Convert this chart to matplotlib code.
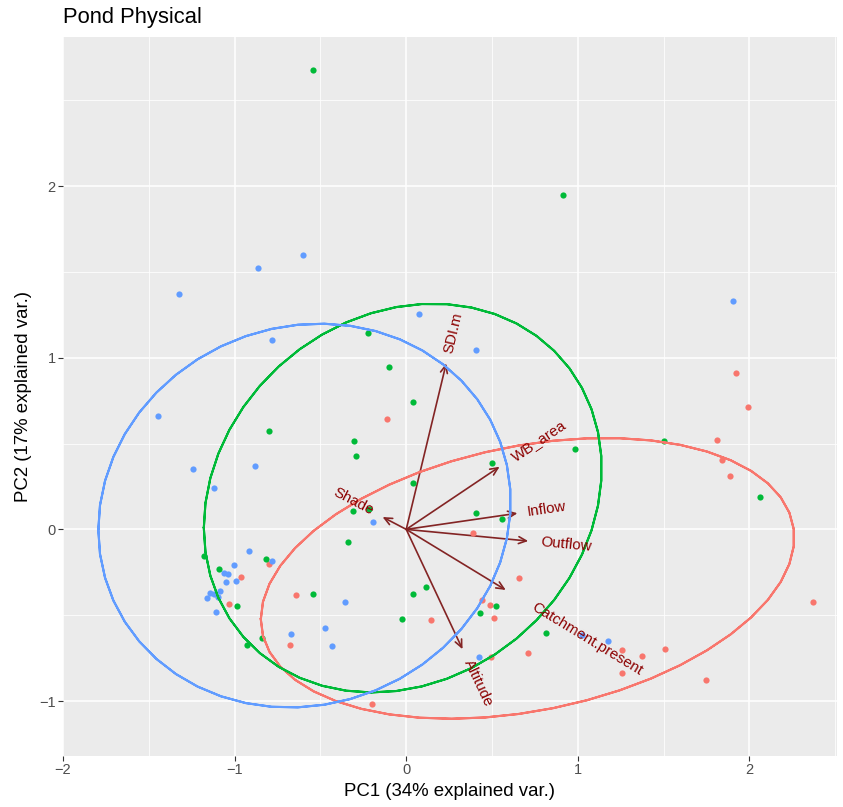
import numpy as np
import matplotlib
matplotlib.use("Agg")
import matplotlib.pyplot as plt

plt.rcParams['font.family'] = ['Liberation Sans', 'DejaVu Sans']

# PCA scores, one list per group
red_x = [1.922, -0.111, -0.798, -0.963, -1.031, -0.645, 0.142, -0.676, -0.200, 1.990,
         1.811, 1.842, 1.885, 0.388, 0.656, 0.439, 0.489, 0.511, 1.258, 1.373,
         1.508, 1.260, 1.749, 2.372, 0.495, 0.712]
red_y = [0.913, 0.643, -0.203, -0.279, -0.434, -0.384, -0.530, -0.673, -1.015, 0.715,
         0.519, 0.402, 0.311, -0.021, -0.281, -0.411, -0.440, -0.514, -0.700, -0.739,
         -0.697, -0.838, -0.875, -0.425, -0.741, -0.722]

green_x = [-0.542, -0.225, -0.103, 0.916, 0.039, -0.800, -0.303, -0.295, 0.039, -0.313,
           -0.219, -0.338, -1.181, -0.819, -1.091, -0.988, -0.542, 0.039, 0.116, -0.025,
           -0.840, -0.930, 1.501, 0.986, 2.060, 0.501, 0.404, 0.557, 0.522, 0.429, 0.814]
green_y = [2.677, 1.142, 0.946, 1.949, 0.740, 0.575, 0.515, 0.429, 0.268, 0.107,
           0.121, -0.075, -0.155, -0.172, -0.229, -0.448, -0.376, -0.376, -0.337, -0.524,
           -0.633, -0.673, 0.515, 0.468, 0.187, 0.385, 0.097, 0.062, -0.444, -0.487, -0.603]

blue_x = [-0.862, -0.602, -1.324, 0.074, -0.784, 1.903, 0.408, -1.448, -0.883, -1.245,
          -1.122, -0.192, -0.916, -0.782, -1.004, -1.064, -1.041, -0.994, -1.052, -1.085,
          -1.142, -1.120, -1.097, -1.163, -1.110, -0.357, -0.476, -0.674, -0.435, 1.023,
          1.173, 0.423]
blue_y = [1.522, 1.596, 1.371, 1.253, 1.101, 1.332, 1.045, 0.660, 0.369, 0.354,
          0.239, 0.041, -0.124, -0.182, -0.205, -0.254, -0.262, -0.300, -0.308, -0.359,
          -0.372, -0.376, -0.396, -0.401, -0.481, -0.423, -0.573, -0.611, -0.677, -0.615,
          -0.652, -0.741]

# variable loadings (arrow tips)
var_names = ['SDI.m', 'WB_area', 'Inflow', 'Outflow', 'Shade', 'Catchment.present', 'Altitude']
var_x = [0.233, 0.544, 0.648, 0.711, -0.138, 0.580, 0.328]
var_y = [0.967, 0.365, 0.094, -0.068, 0.072, -0.353, -0.698]

groups = [(red_x, red_y, '#F8766D'), (green_x, green_y, '#00BA38'), (blue_x, blue_y, '#619CFF')]

W, H = 843, 807
fig = plt.figure(figsize=(W / 100, H / 100), dpi=100)
left, right, top, bottom = 63, 837, 37, 756
ax = fig.add_axes([left / W, (H - bottom) / H, (right - left) / W, (bottom - top) / H])
ax.set_facecolor('#EBEBEB')
ax.set_xlim(-2.0, 2.51)
ax.set_ylim(-1.32, 2.868)

ax.set_xticks([-2, -1, 0, 1, 2])
ax.set_yticks([-1, 0, 1, 2])
ax.set_xticks([-1.5, -0.5, 0.5, 1.5, 2.5], minor=True)
ax.set_yticks([-0.5, 0.5, 1.5, 2.5], minor=True)
ax.grid(True, which='major', color='white', linewidth=1.1)
ax.grid(True, which='minor', color='white', linewidth=0.55)
ax.set_axisbelow(True)
ax.tick_params(which='minor', length=0)
ax.tick_params(which='major', length=3.3, width=0.8, color='#333333',
               labelcolor='#4D4D4D', labelsize=10.5, pad=2)
ax.set_xticklabels(['\u22122', '\u22121', '0', '1', '2'])
ax.set_yticklabels(['\u22121', '0', '1', '2'])
for s in ax.spines.values():
    s.set_visible(False)

# arrows
for vx, vy in zip(var_x, var_y):
    ax.annotate('', xy=(vx, vy), xytext=(0, 0),
                arrowprops=dict(arrowstyle='->,head_length=0.55,head_width=0.25',
                                color='#832424', lw=1.2, shrinkA=0, shrinkB=0))

# points
for gx, gy, col in groups:
    ax.scatter(gx, gy, s=20, color=col, linewidths=0, zorder=3)

# 68% normal ellipses per group
theta = np.concatenate([np.linspace(-np.pi, np.pi, 50), np.linspace(np.pi, -np.pi, 50)])
circle = np.column_stack([np.cos(theta), np.sin(theta)])
ed = np.sqrt(-2 * np.log(1 - 0.68))
for gx, gy, col in groups:
    pts = np.column_stack([gx, gy])
    sigma = np.cov(pts.T)
    L = np.linalg.cholesky(sigma)
    ell = circle @ L.T * ed + pts.mean(axis=0)
    ax.plot(ell[:, 0], ell[:, 1], color=col, lw=1.5, zorder=4)

# variable labels, ggbiplot style
renderer = fig.canvas.get_renderer()
for name, vx, vy in zip(var_names, var_x, var_y):
    ang = np.degrees(np.arctan(vy / vx))
    tmp = ax.text(0, 0, name, fontsize=10.8)
    wpt = tmp.get_window_extent(renderer).width * 72 / fig.dpi
    tmp.remove()
    sgn = np.sign(vx)
    off = 0.25 * wpt * sgn
    dx = off * np.cos(np.radians(ang))
    dy = off * np.sin(np.radians(ang))
    ax.annotate(name, xy=(vx, vy), xytext=(dx, dy), textcoords='offset points',
                rotation=ang, rotation_mode='anchor',
                ha='left' if sgn > 0 else 'right', va='center',
                color='#8B0000', fontsize=10.8, zorder=5)

fig.text(left / W, 1 - 23.5 / H, 'Pond Physical', fontsize=15.8, va='baseline', ha='left')
fig.text((left + right) / 2 / W, 1 - 792 / H, 'PC1 (34% explained var.)',
         fontsize=13.4, ha='center', va='center')
fig.text(24 / W, 1 - (top + bottom) / 2 / H, 'PC2 (17% explained var.)',
         fontsize=13.4, ha='center', va='center', rotation=90)

fig.savefig('out.png', dpi=100)
